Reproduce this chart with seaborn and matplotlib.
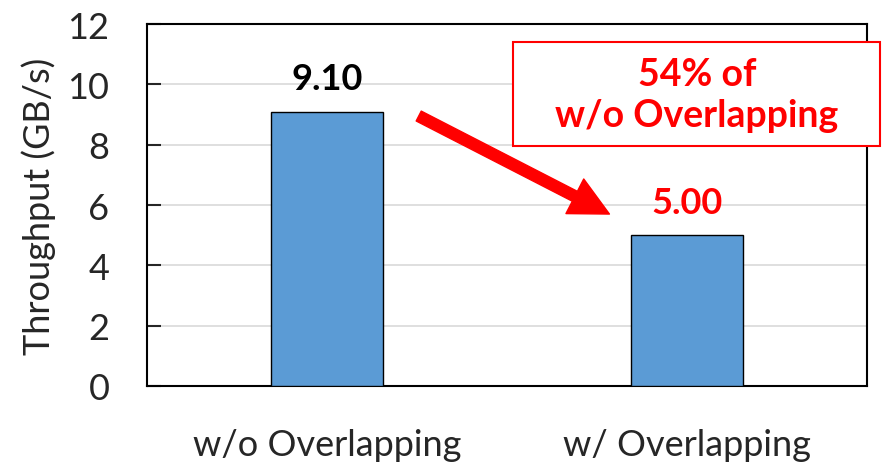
import matplotlib
matplotlib.use("Agg")
import matplotlib.pyplot as plt
from matplotlib.patches import Rectangle
import seaborn as sns
import pandas as pd

# data
categories = ["w/o Overlapping", "w/ Overlapping"]
throughput = [9.10, 5.00]
value_labels = ["9.10", "5.00"]
ratio_text = "54% of\nw/o Overlapping"

sns.set_theme(style="white")
plt.rcParams["font.family"] = ["Lato", "DejaVu Sans"]

df = pd.DataFrame({"config": categories, "gbps": throughput})

fig = plt.figure(figsize=(8.82, 4.64), dpi=100)
ax = fig.add_axes([0.1667, 0.166, 0.816, 0.780])

sns.barplot(data=df, x="config", y="gbps", ax=ax, color="#5B9BD5",
            saturation=1, width=0.31, edgecolor="black", linewidth=1.0, zorder=3)

ax.set_ylim(0, 12)
ax.set_xlim(-0.5, 1.5)
ax.set_yticks(range(0, 13, 2))
ax.yaxis.grid(True, color="#D9D9D9", linewidth=1.2, zorder=0)
ax.set_axisbelow(True)
for s in ax.spines.values():
    s.set_color("black")
    s.set_linewidth(1.5)
ax.tick_params(axis="y", direction="in", length=10, width=1.5, labelsize=26, pad=27, left=True)
ax.tick_params(axis="x", length=0, labelsize=26, pad=30)
ax.set_xlabel("")
ax.set_ylabel("Throughput (GB/s)", fontsize=26, labelpad=8)

# value labels
colors = ["black", "red"]
for i, (v, lab) in enumerate(zip(throughput, value_labels)):
    ax.text(i, v + 0.55, lab, ha="center", va="bottom", fontsize=26,
            fontweight="bold", color=colors[i])

# red arrow from first bar towards the second
ax.annotate("", xy=(0.785, 5.7), xytext=(0.255, 8.95),
            arrowprops=dict(facecolor="red", edgecolor="red", width=8,
                            headwidth=28, headlength=28, shrink=0))

# boxed ratio note (box sticks out past the right spine, as in the original)
ax.add_patch(Rectangle((0.517, 7.95), 1.019, 3.45, facecolor="white",
                       edgecolor="red", linewidth=1.5, clip_on=False, zorder=5))
ax.text(1.028, 9.68, ratio_text, ha="center", va="center", fontsize=27,
        fontweight="bold", color="red", linespacing=1.25, zorder=6)

fig.savefig("out.png", dpi=100)
